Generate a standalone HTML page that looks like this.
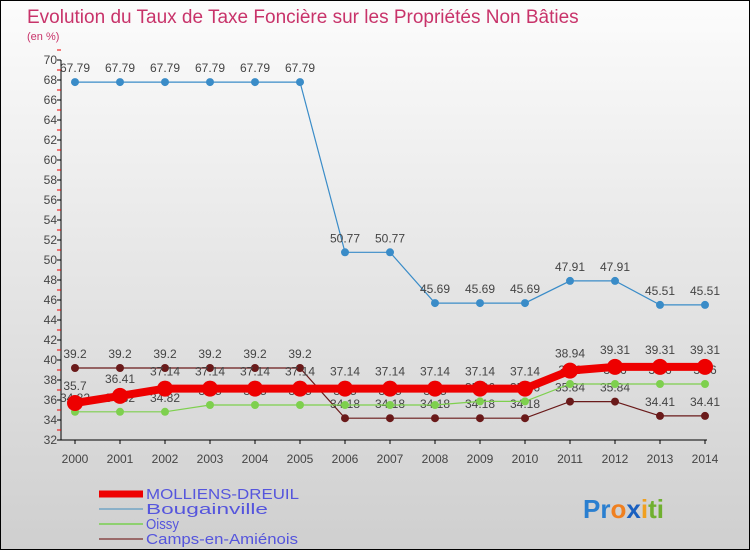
<!DOCTYPE html>
<html><head><meta charset="utf-8">
<style>
html,body{margin:0;padding:0}
body{width:750px;height:550px;overflow:hidden;font-family:"Liberation Sans",sans-serif}
#wrap{position:relative;width:748px;height:548px;border:1px solid #000;background:linear-gradient(#fcfcfc,#cfcfcf)}
svg text{font-family:"Liberation Sans",sans-serif}
</style></head><body>
<div id="wrap">
<svg id="chart" width="748" height="548">
<text x="26" y="22" font-size="19" fill="#c8336a">Evolution du Taux de Taxe Foncière sur les Propriétés Non Bâties</text>
<text x="26" y="39" font-size="11" fill="#c8336a">(en %)</text>
<g id="axes"></g>
<g id="series"></g>
<g id="legend"></g>
<text x="582" y="517" font-size="26" font-weight="bold"><tspan fill="#2a7fd0">Pr</tspan><tspan fill="#f08020">o</tspan><tspan fill="#1a60c0">x</tspan><tspan fill="#f0a020">i</tspan><tspan fill="#70b030">ti</tspan></text>
</svg>
</div>
<script>
const years=[2000,2001,2002,2003,2004,2005,2006,2007,2008,2009,2010,2011,2012,2013,2014];
const yTicks=[32,34,36,38,40,42,44,46,48,50,52,54,56,58,60,62,64,66,68,70];
const molliens=[35.7,36.41,37.14,37.14,37.14,37.14,37.14,37.14,37.14,37.14,37.14,38.94,39.31,39.31,39.31];
const bougainville=[67.79,67.79,67.79,67.79,67.79,67.79,50.77,50.77,45.69,45.69,45.69,47.91,47.91,45.51,45.51];
const oissy=[34.82,34.82,34.82,35.5,35.5,35.5,35.5,35.5,35.5,35.86,35.86,37.6,37.6,37.6,37.6];
const camps=[39.2,39.2,39.2,39.2,39.2,39.2,34.18,34.18,34.18,34.18,34.18,35.84,35.84,34.41,34.41];
const seriesNames=["MOLLIENS-DREUIL","Bougainville","Oissy","Camps-en-Amiénois"];

const NS="http://www.w3.org/2000/svg";
const x=i=>74+i*45;
const y=v=>439-(v-32)*10;
function mk(parent,tag,attrs){const e=document.createElementNS(NS,tag);for(const k in attrs)e.setAttribute(k,attrs[k]);parent.appendChild(e);return e;}
const axes=document.getElementById('axes');
const ax=mk(axes,'line',{x1:60,y1:59,x2:60,y2:439,stroke:'#000'});


const bx=mk(axes,'line',{x1:60,y1:439,x2:706,y2:439,stroke:'#000'});


yTicks.forEach(t=>{
  mk(axes,'line',{x1:56,y1:y(t),x2:60,y2:y(t),stroke:'#000'});
  mk(axes,'line',{x1:56,y1:y(t+1),x2:60,y2:y(t+1),stroke:'#e00'});
  const l=mk(axes,'text',{x:56,y:y(t)+4,'font-size':12,fill:'#444','text-anchor':'end'});
  l.textContent=t;
  
  
});
years.forEach((yr,i)=>{
  mk(axes,'line',{x1:x(i),y1:439,x2:x(i),y2:443,stroke:'#000'});
  const l=mk(axes,'text',{x:x(i),y:462,'font-size':12,fill:'#444','text-anchor':'middle'});
  l.textContent=yr;
  
  
});
const sg=document.getElementById('series');
function draw(data,color,w,r,name,labelDy){
  const g=mk(sg,'g',{});
  
  
  mk(g,'polyline',{points:data.map((v,i)=>x(i)+','+y(v)).join(' '),fill:'none',stroke:color,'stroke-width':w});
  data.forEach((v,i)=>{
    const c=mk(g,'circle',{cx:x(i),cy:y(v),r:r,fill:color});
    
    
    const t=mk(g,'text',{x:x(i),y:y(v)+labelDy,'font-size':12,fill:'#444','text-anchor':'middle'});
    t.textContent=v;
    
    
  });
}
draw(camps,'#6a1a1a',1.2,4,'series-camps',-10);
draw(oissy,'#7ed04e',1.2,4,'series-oissy',-10);
draw(bougainville,'#3a8cc8',1.2,4,'series-bougainville',-10);
draw(molliens,'#ee0000',8,8,'series-molliens',-13);
const lg=document.getElementById('legend');
const colors=['#ee0000','#8ab0c8','#8ed070','#9a6a6a'];
const widths=[7,2,2,2];
const legendLens=[153,122,33,152];
seriesNames.forEach((n,i)=>{
  const yy=493+i*15;
  mk(lg,'line',{x1:98,y1:yy,x2:142,y2:yy,stroke:colors[i],'stroke-width':widths[i]});
  const t=mk(lg,'text',{x:145,y:yy+5,'font-size':15,fill:'#5555dd',textLength:legendLens[i],lengthAdjust:'spacingAndGlyphs'});
  t.textContent=n;
  
  
});
</script>
</body></html>
